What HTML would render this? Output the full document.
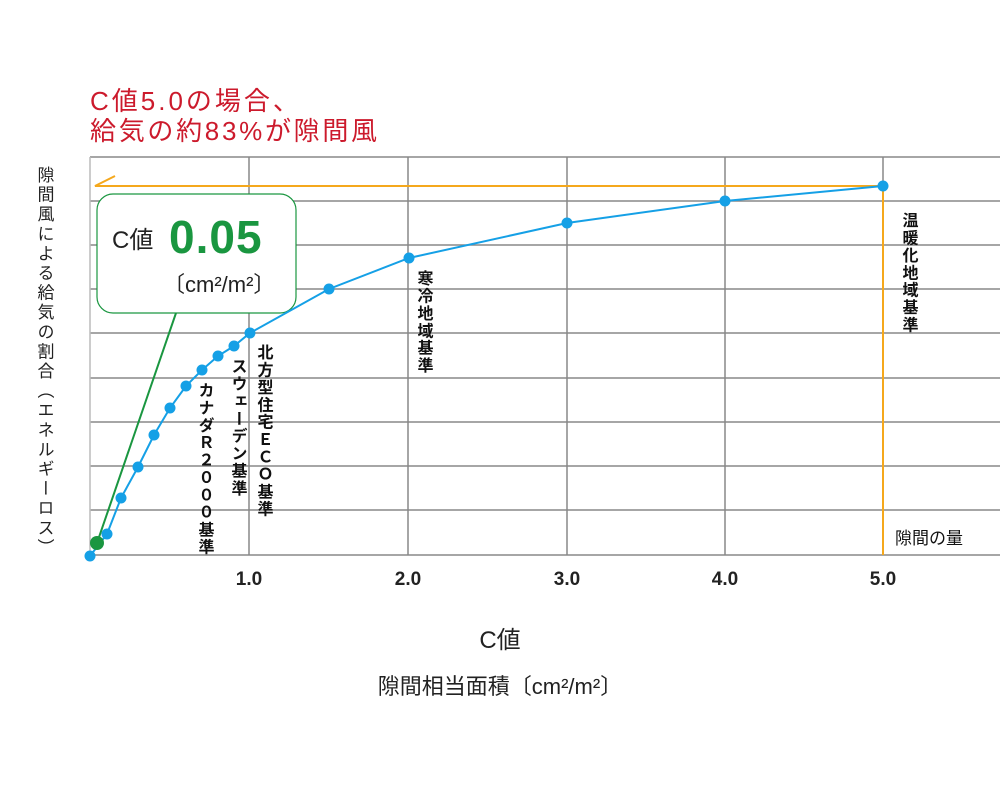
<!DOCTYPE html>
<html><head><meta charset="utf-8"><style>
body{margin:0;background:#fff}
svg text{font-family:"Liberation Sans","Noto Sans CJK JP",sans-serif}
</style></head><body>
<svg width="1000" height="800" viewBox="0 0 1000 800" xmlns="http://www.w3.org/2000/svg">
<g stroke="#888" stroke-width="1.5">
<line x1="90" y1="157" x2="1000" y2="157"/><line x1="90" y1="201" x2="1000" y2="201"/>
<line x1="90" y1="245" x2="1000" y2="245"/><line x1="90" y1="289" x2="1000" y2="289"/>
<line x1="90" y1="333" x2="1000" y2="333"/><line x1="90" y1="378" x2="1000" y2="378"/>
<line x1="90" y1="422" x2="1000" y2="422"/><line x1="90" y1="466" x2="1000" y2="466"/>
<line x1="90" y1="510" x2="1000" y2="510"/><line x1="90" y1="555" x2="1000" y2="555"/>
<line x1="90" y1="157" x2="90" y2="555" stroke="#bbb"/>
<line x1="249" y1="157" x2="249" y2="555"/><line x1="408" y1="157" x2="408" y2="555"/>
<line x1="567" y1="157" x2="567" y2="555"/><line x1="725" y1="157" x2="725" y2="555"/>
<line x1="883" y1="157" x2="883" y2="555"/>
</g>
<g stroke="#f5a81c" stroke-width="2" fill="none">
<polyline points="115,176 95,186 883,186 883,555"/>
</g>
<line x1="97" y1="543" x2="176" y2="313" stroke="#1a9640" stroke-width="2"/>
<rect x="97" y="194" width="199" height="119" rx="16" fill="#fff" stroke="#1a9640" stroke-width="1.2"/>
<text x="112" y="248" font-size="24" fill="#222">C値</text>
<text x="169" y="253" font-size="46" font-weight="bold" fill="#1a9640" letter-spacing="1">0.05</text>
<text x="163" y="292" font-size="22" fill="#222">〔cm²/m²〕</text>
<polyline fill="none" stroke="#15a0e6" stroke-width="2" points="90,556 107,534 121,498 138,467 154,435 170,408 186,386 202,370 218,356 234,346 250,333 329,289 409,258 567,223 725,201 883,186"/>
<g fill="#15a0e6">
<circle cx="90" cy="556" r="5.5"/><circle cx="107" cy="534" r="5.5"/><circle cx="121" cy="498" r="5.5"/>
<circle cx="138" cy="467" r="5.5"/><circle cx="154" cy="435" r="5.5"/><circle cx="170" cy="408" r="5.5"/>
<circle cx="186" cy="386" r="5.5"/><circle cx="202" cy="370" r="5.5"/><circle cx="218" cy="356" r="5.5"/>
<circle cx="234" cy="346" r="5.5"/><circle cx="250" cy="333" r="5.5"/><circle cx="329" cy="289" r="5.5"/>
<circle cx="409" cy="258" r="5.5"/><circle cx="567" cy="223" r="5.5"/><circle cx="725" cy="201" r="5.5"/>
<circle cx="883" cy="186" r="5.5"/>
</g>
<circle cx="97" cy="543" r="7" fill="#1a9640"/>
<text x="90" y="110" font-size="26" fill="#cc1a2c" letter-spacing="3">C値5.0の場合、</text>
<text x="90" y="140" font-size="26" fill="#cc1a2c" letter-spacing="2.7">給気の約83%が隙間風</text>
<g font-size="16" fill="#111" font-weight="bold" writing-mode="tb" letter-spacing="1.4">
<text x="204" y="382">カナダＲ２０００基準</text>
<text x="237" y="358">スウェーデン基準</text>
<text x="263" y="344">北方型住宅ＥＣＯ基準</text>
<text x="423" y="270">寒冷地域基準</text>
<text x="908" y="212">温暖化地域基準</text>
</g>
<text x="44" y="166" font-size="17" fill="#222" writing-mode="tb" letter-spacing="2.6">隙間風による給気の割合（エネルギーロス）</text>
<text x="895" y="544" font-size="17" fill="#111">隙間の量</text>
<g font-size="19" font-weight="bold" fill="#222" text-anchor="middle">
<text x="249" y="585">1.0</text><text x="408" y="585">2.0</text><text x="567" y="585">3.0</text>
<text x="725" y="585">4.0</text><text x="883" y="585">5.0</text>
</g>
<text x="500" y="648" font-size="24" fill="#222" text-anchor="middle">C値</text>
<text x="500" y="694" font-size="22" fill="#222" text-anchor="middle">隙間相当面積〔cm²/m²〕</text>
</svg>
</body></html>
